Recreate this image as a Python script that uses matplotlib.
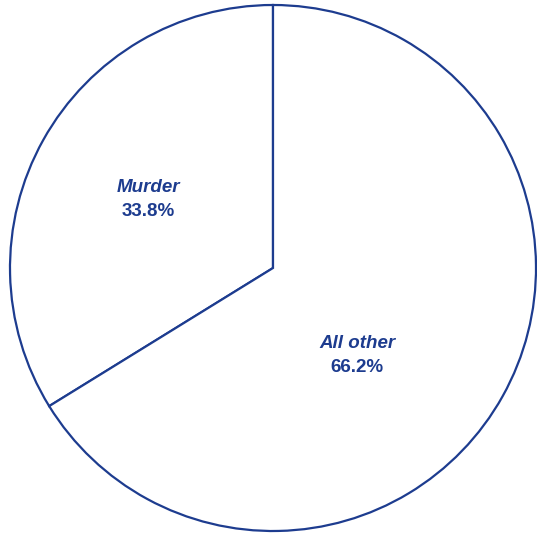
import matplotlib.pyplot as plt

categories = ["Murder", "All other"]
shares = [33.8, 66.2]

blue = "#1d3c8f"

fig = plt.figure(figsize=(5.37, 5.35), dpi=100)
ax = fig.add_axes([0, 0, 1, 1])

# pixel-like data coords, y measured from bottom
cx, cy, r = 273, 267, 263
ax.pie(shares, startangle=90, counterclock=True, center=(cx, cy), radius=r,
       colors=["white", "white"],
       wedgeprops=dict(edgecolor=blue, linewidth=1.6))

ax.set_xlim(0, 537)
ax.set_ylim(0, 535)
ax.set_aspect("equal")
ax.axis("off")

label_pos = [(148, 535 - 199), (357, 535 - 355)]
for name, val, (x, y) in zip(categories, shares, label_pos):
    ax.text(x, y + 11, name, ha="center", va="center", color=blue,
            fontsize=13.5, fontweight="bold", fontstyle="italic",
            family="Liberation Sans")
    ax.text(x, y - 12, f"{val}%", ha="center", va="center", color=blue,
            fontsize=13.5, fontweight="bold", family="Liberation Sans")

fig.savefig("out.png", dpi=100)
